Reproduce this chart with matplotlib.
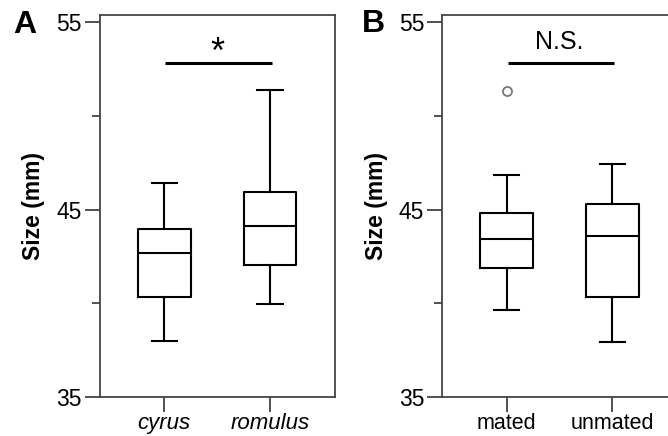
import matplotlib
matplotlib.use("Agg")
import matplotlib.pyplot as plt

plt.rcParams['font.family'] = ['Liberation Sans', 'DejaVu Sans']

# Panel A data
groups_a = ["cyrus", "romulus"]
whislo_a = [37.98, 39.95]
q1_a = [40.31, 42.02]
med_a = [42.66, 44.12]
q3_a = [43.94, 45.92]
whishi_a = [46.4, 51.38]
fliers_a = [[], []]

# Panel B data
groups_b = ["mated", "unmated"]
whislo_b = [39.63, 37.94]
q1_b = [41.9, 40.34]
med_b = [43.41, 43.6]
q3_b = [44.8, 45.28]
whishi_b = [46.84, 47.43]
fliers_b = [[51.35], []]

sig_a = "*"
sig_b = "N.S."
sig_y = 52.81
yticks = [35, 45, 55]
minor_yticks = [40, 50]

fig = plt.figure(figsize=(6.68, 4.36), dpi=100)
W, H = 668, 436

def make_axes(left_px):
    return fig.add_axes([left_px / W, 1 - 396.7 / H, 235 / W, (396.7 - 15) / H])

ax_a = make_axes(100)
ax_b = make_axes(442.3)

def draw(ax, groups, wl, q1, med, q3, wh, fl, italic, sig, sigsize, sigoffset):
    stats = []
    for i in range(len(groups)):
        stats.append(dict(whislo=wl[i], q1=q1[i], med=med[i], q3=q3[i],
                          whishi=wh[i], fliers=fl[i], label=groups[i]))
    lw = 1.5
    ax.bxp(stats, positions=[1, 2], widths=0.5, showfliers=True,
           boxprops=dict(color='black', linewidth=lw),
           medianprops=dict(color='black', linewidth=lw),
           whiskerprops=dict(color='black', linewidth=lw),
           capprops=dict(color='black', linewidth=lw),
           capwidths=0.24,
           flierprops=dict(marker='o', markersize=6.5, markerfacecolor='none',
                           markeredgecolor='#777777', markeredgewidth=1.3))
    ax.set_xlim(0.392, 2.615)
    ax.set_ylim(35, 55.39)
    ax.set_yticks(yticks)
    ax.set_yticks(minor_yticks, minor=True)
    ax.set_xticks([1, 2])
    ax.tick_params(axis='both', which='major', length=11, width=1.2,
                   color='#333333', labelsize=16.5, pad=2)
    ax.tick_params(axis='y', which='minor', length=6, width=1.2, color='#333333')
    ax.tick_params(axis='x', pad=0.5)
    ax.set_xticklabels(groups, fontsize=16 if italic else 15.5,
                       style='italic' if italic else 'normal')
    for s in ax.spines.values():
        s.set_color('#444444')
        s.set_linewidth(1.3)
    ax.set_ylabel("Size (mm)", fontsize=16.5, fontweight='bold', labelpad=8)
    ax.plot([1.01, 2.02], [sig_y, sig_y], color='black', linewidth=2.2,
            solid_capstyle='butt')
    ax.text(1.5, sig_y + sigoffset, sig, ha='center', va='bottom', fontsize=sigsize)

draw(ax_a, groups_a, whislo_a, q1_a, med_a, q3_a, whishi_a, fliers_a, True, sig_a, 26, -0.4)
draw(ax_b, groups_b, whislo_b, q1_b, med_b, q3_b, whishi_b, fliers_b, False, sig_b, 18, 0.5)

fig.text(25 / W, 1 - 25 / H, "A", fontsize=23, fontweight='bold', ha='center', va='center')
fig.text(373 / W, 1 - 24 / H, "B", fontsize=23, fontweight='bold', ha='center', va='center')

fig.savefig("out.png", dpi=100)
